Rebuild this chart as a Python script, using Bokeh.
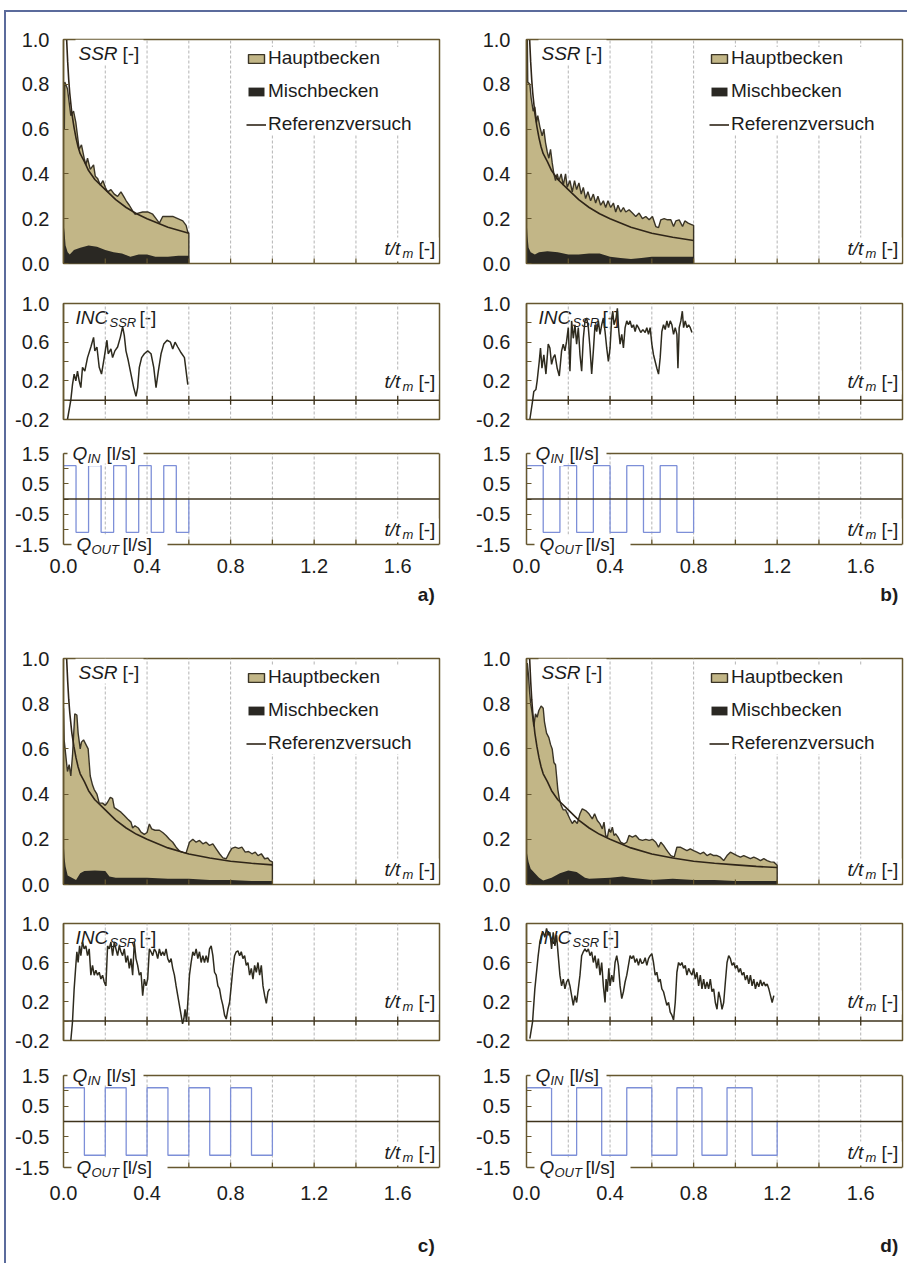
import math
from bokeh.plotting import figure
from bokeh.models import (Range1d, FixedTicker, Label, Legend, LegendItem, Span, LinearAxis,
                          BoxAnnotation)
from bokeh.layouts import row, column
from bokeh.embed import file_html
from bokeh.resources import INLINE

# ---------------- data ----------------
X_MAJOR = [0.0, 0.4, 0.8, 1.2, 1.6]
X_MAJOR_LABELS = ["0.0", "0.4", "0.8", "1.2", "1.6"]
GRID_T = [0.2, 0.4, 0.6, 0.8, 1.0, 1.2, 1.4, 1.6]

SSR_TICKS = [0.0, 0.2, 0.4, 0.6, 0.8, 1.0]
SSR_LABELS = ["0.0", "0.2", "0.4", "0.6", "0.8", "1.0"]
INC_TICKS = [-0.2, 0.2, 0.6, 1.0]
INC_LABELS = ["-0.2", "0.2", "0.6", "1.0"]
INC_MINOR = [0.0, 0.4, 0.8]
Q_TICKS = [-1.5, -0.5, 0.5, 1.5]
Q_LABELS = ["-1.5", "-0.5", "0.5", "1.5"]
Q_MINOR = [-1.0, 0.0, 1.0]

# Referenzversuch (same reference run in all panels)
ref_t = [0.015, 0.02, 0.025, 0.03, 0.04, 0.05, 0.06, 0.07, 0.08, 0.10, 0.12, 0.15, 0.20,
         0.25, 0.30, 0.35, 0.40, 0.50, 0.60, 0.70, 0.80, 0.90, 1.00, 1.10, 1.20]
ref_v = [1.00, 0.90, 0.82, 0.76, 0.67, 0.61, 0.56, 0.52, 0.49, 0.455, 0.415, 0.375, 0.33,
         0.285, 0.25, 0.222, 0.20, 0.162, 0.135, 0.117, 0.103, 0.094, 0.087, 0.080, 0.075]

Q_LEVELS = [1.1, -1.1, 1.1, -1.1, 1.1, -1.1, 1.1, -1.1, 1.1, -1.1]

# ---- panel a ----
hb_a_t = [0.0, 0.004, 0.006, 0.019, 0.027, 0.035, 0.048, 0.059, 0.067, 0.075,
          0.086, 0.099, 0.107, 0.115, 0.128, 0.144, 0.152, 0.163, 0.176, 0.189,
          0.2, 0.211, 0.227, 0.243, 0.259, 0.275, 0.288, 0.3, 0.315, 0.331,
          0.342, 0.358, 0.379, 0.403, 0.427, 0.443, 0.459, 0.475, 0.499, 0.523,
          0.547, 0.571, 0.587, 0.595, 0.6]
hb_a_v = [0.60, 0.60, 0.81, 0.78, 0.72, 0.66, 0.68, 0.63, 0.57, 0.51,
          0.53, 0.47, 0.44, 0.47, 0.42, 0.44, 0.39, 0.38, 0.35, 0.37,
          0.34, 0.32, 0.33, 0.31, 0.30, 0.32, 0.30, 0.28, 0.26, 0.235,
          0.22, 0.225, 0.23, 0.23, 0.22, 0.20, 0.18, 0.21, 0.21, 0.21,
          0.20, 0.19, 0.17, 0.14, 0.135]
mb_a_t = [0.0, 0.005, 0.01, 0.02, 0.03, 0.05, 0.08, 0.12, 0.16, 0.2, 0.24, 0.28, 0.32,
          0.36, 0.4, 0.44, 0.5, 0.55, 0.6]
mb_a_v = [0.18, 0.14, 0.08, 0.05, 0.04, 0.06, 0.07, 0.08, 0.075, 0.06, 0.05, 0.045, 0.03,
          0.04, 0.04, 0.03, 0.03, 0.035, 0.035]
inc_a_t = [0.019, 0.035, 0.043, 0.051, 0.059, 0.067, 0.075, 0.083, 0.091, 0.102,
           0.115, 0.131, 0.144, 0.15, 0.16, 0.171, 0.182, 0.195, 0.208, 0.214,
           0.227, 0.235, 0.246, 0.259, 0.272, 0.283, 0.291, 0.299, 0.31, 0.323,
           0.336, 0.347, 0.355, 0.363, 0.374, 0.387, 0.403, 0.419, 0.432, 0.443,
           0.454, 0.467, 0.48, 0.496, 0.512, 0.523, 0.534, 0.547, 0.563, 0.579,
           0.587, 0.595]
inc_a_v = [-0.2, 0.0, 0.16, 0.27, 0.20, 0.30, 0.20, 0.13, 0.34, 0.30,
           0.44, 0.55, 0.65, 0.51, 0.55, 0.34, 0.27, 0.44, 0.62, 0.48,
           0.53, 0.44, 0.51, 0.55, 0.65, 0.76, 0.67, 0.51, 0.41, 0.27,
           0.13, 0.04, 0.13, 0.34, 0.44, 0.48, 0.51, 0.48, 0.34, 0.13,
           0.30, 0.48, 0.58, 0.62, 0.60, 0.53, 0.60, 0.55, 0.49, 0.44,
           0.30, 0.16]
q_switch_a = [0.0, 0.06, 0.12, 0.18, 0.24, 0.30, 0.36, 0.42, 0.48, 0.54, 0.60]

# ---- panel b ----
hb_b_t = [0.0, 0.004, 0.006, 0.016, 0.022, 0.032, 0.04, 0.048, 0.054, 0.064,
          0.075, 0.083, 0.091, 0.099, 0.107, 0.115, 0.123, 0.131, 0.139, 0.147,
          0.155, 0.166, 0.176, 0.187, 0.195, 0.208, 0.219, 0.23, 0.24, 0.251,
          0.262, 0.272, 0.283, 0.294, 0.307, 0.32, 0.331, 0.342, 0.355, 0.368,
          0.379, 0.39, 0.403, 0.416, 0.427, 0.438, 0.451, 0.464, 0.475, 0.491,
          0.507, 0.523, 0.539, 0.555, 0.571, 0.587, 0.603, 0.619, 0.632, 0.643,
          0.659, 0.675, 0.691, 0.704, 0.715, 0.731, 0.747, 0.758, 0.774, 0.787,
          0.8]
hb_b_v = [0.80, 1.0, 0.81, 0.80, 0.74, 0.68, 0.70, 0.63, 0.66, 0.61,
          0.57, 0.60, 0.54, 0.50, 0.47, 0.51, 0.45, 0.40, 0.37, 0.40,
          0.37, 0.40, 0.35, 0.40, 0.34, 0.37, 0.32, 0.37, 0.33, 0.36,
          0.31, 0.34, 0.29, 0.32, 0.28, 0.31, 0.27, 0.30, 0.26, 0.28,
          0.25, 0.28, 0.25, 0.27, 0.23, 0.26, 0.23, 0.25, 0.23, 0.24,
          0.225, 0.21, 0.225, 0.20, 0.21, 0.195, 0.21, 0.165, 0.16, 0.195,
          0.20, 0.195, 0.195, 0.165, 0.19, 0.195, 0.165, 0.19, 0.18, 0.175,
          0.17]
mb_b_t = [0.0, 0.005, 0.01, 0.02, 0.04, 0.06, 0.1, 0.15, 0.2, 0.25, 0.3, 0.35, 0.4,
          0.45, 0.5, 0.55, 0.6, 0.7, 0.8]
mb_b_v = [0.20, 0.12, 0.07, 0.05, 0.04, 0.05, 0.055, 0.05, 0.04, 0.04, 0.045, 0.045, 0.03,
          0.025, 0.02, 0.025, 0.03, 0.03, 0.03]
inc_b_t = [0.016, 0.029, 0.035, 0.045, 0.051, 0.061, 0.067, 0.074, 0.083, 0.093,
           0.104, 0.112, 0.12, 0.128, 0.136, 0.147, 0.157, 0.168, 0.176, 0.184,
           0.192, 0.2, 0.208, 0.216, 0.224, 0.232, 0.24, 0.248, 0.256, 0.264,
           0.272, 0.28, 0.288, 0.296, 0.304, 0.312, 0.32, 0.328, 0.336, 0.344,
           0.352, 0.36, 0.368, 0.376, 0.384, 0.392, 0.4, 0.408, 0.413, 0.419,
           0.429, 0.435, 0.442, 0.448, 0.456, 0.464, 0.472, 0.48, 0.488, 0.496,
           0.504, 0.512, 0.52, 0.528, 0.536, 0.547, 0.557, 0.568, 0.576, 0.584,
           0.592, 0.6, 0.608, 0.616, 0.624, 0.632, 0.64, 0.648, 0.656, 0.664,
           0.672, 0.68, 0.688, 0.696, 0.704, 0.712, 0.72, 0.725, 0.731, 0.739,
           0.746, 0.752, 0.76, 0.768, 0.776, 0.784, 0.792]
inc_b_v = [-0.2, -0.01, 0.09, 0.11, 0.2, 0.40, 0.54, 0.33, 0.47, 0.27,
           0.58, 0.54, 0.37, 0.44, 0.47, 0.33, 0.25, 0.51, 0.58, 0.51,
           0.61, 0.75, 0.30, 0.82, 0.64, 0.78, 0.58, 0.75, 0.47, 0.30,
           0.64, 0.82, 0.85, 0.75, 0.54, 0.27, 0.51, 0.78, 0.71, 0.82,
           0.68, 0.78, 0.85, 0.71, 0.54, 0.40, 0.54, 0.85, 0.92, 0.78,
           0.85, 0.95, 0.71, 0.58, 0.68, 0.54, 0.75, 0.82, 0.78, 0.82,
           0.75, 0.78, 0.71, 0.78, 0.75, 0.70, 0.73, 0.70, 0.75, 0.68,
           0.75, 0.58, 0.47, 0.40, 0.33, 0.27, 0.44, 0.71, 0.78, 0.73,
           0.82, 0.75, 0.82, 0.78, 0.68, 0.75, 0.68, 0.33, 0.75, 0.82,
           0.92, 0.75, 0.82, 0.75, 0.78, 0.75, 0.70]
q_switch_b = [0.0, 0.08, 0.16, 0.24, 0.32, 0.40, 0.48, 0.56, 0.64, 0.72, 0.80]

# ---- panel c ----
hb_c_t = [0.0, 0.003, 0.011, 0.019, 0.027, 0.035, 0.043, 0.054, 0.064, 0.07,
          0.08, 0.086, 0.096, 0.107, 0.118, 0.128, 0.139, 0.147, 0.16, 0.171,
          0.187, 0.2, 0.211, 0.224, 0.235, 0.243, 0.259, 0.275, 0.291, 0.307,
          0.323, 0.331, 0.342, 0.358, 0.371, 0.387, 0.4, 0.411, 0.422, 0.438,
          0.459, 0.475, 0.491, 0.507, 0.523, 0.539, 0.555, 0.571, 0.587, 0.603,
          0.619, 0.635, 0.651, 0.667, 0.683, 0.699, 0.715, 0.731, 0.747, 0.763,
          0.779, 0.795, 0.806, 0.822, 0.838, 0.854, 0.87, 0.886, 0.902, 0.918,
          0.931, 0.947, 0.963, 0.979, 0.987, 1.0]
hb_c_v = [0.78, 0.64, 0.57, 0.50, 0.53, 0.48, 0.57, 0.755, 0.75, 0.67,
          0.60, 0.63, 0.64, 0.62, 0.60, 0.48, 0.44, 0.42, 0.40, 0.36,
          0.36, 0.35, 0.364, 0.386, 0.38, 0.34, 0.33, 0.32, 0.305, 0.29,
          0.276, 0.25, 0.26, 0.25, 0.232, 0.222, 0.23, 0.268, 0.246, 0.24,
          0.24, 0.23, 0.217, 0.20, 0.187, 0.165, 0.148, 0.142, 0.14, 0.187,
          0.20, 0.187, 0.195, 0.18, 0.187, 0.173, 0.18, 0.158, 0.136, 0.118,
          0.114, 0.143, 0.16, 0.165, 0.16, 0.165, 0.143, 0.146, 0.136, 0.143,
          0.128, 0.136, 0.114, 0.117, 0.106, 0.10]
mb_c_t = [0.0, 0.005, 0.01, 0.02, 0.04, 0.06, 0.08, 0.1, 0.15, 0.2, 0.22, 0.25, 0.3,
          0.4, 0.5, 0.6, 0.7, 0.8, 0.9, 1.0]
mb_c_v = [0.20, 0.12, 0.08, 0.04, 0.03, 0.02, 0.05, 0.06, 0.062, 0.06, 0.035, 0.03, 0.03,
          0.03, 0.025, 0.025, 0.02, 0.02, 0.015, 0.015]
inc_c_t = [0.035, 0.043, 0.051, 0.059, 0.064, 0.07, 0.077, 0.083, 0.091, 0.099,
           0.107, 0.115, 0.123, 0.131, 0.139, 0.147, 0.155, 0.163, 0.171, 0.179,
           0.187, 0.195, 0.203, 0.211, 0.219, 0.227, 0.235, 0.243, 0.251, 0.259,
           0.267, 0.275, 0.283, 0.291, 0.299, 0.307, 0.315, 0.323, 0.331, 0.339,
           0.347, 0.355, 0.363, 0.371, 0.379, 0.387, 0.395, 0.403, 0.411, 0.419,
           0.427, 0.435, 0.443, 0.451, 0.459, 0.467, 0.475, 0.483, 0.491, 0.499,
           0.507, 0.515, 0.523, 0.531, 0.539, 0.547, 0.555, 0.563, 0.57, 0.576,
           0.582, 0.589, 0.595, 0.603, 0.611, 0.619, 0.627, 0.635, 0.643, 0.651,
           0.659, 0.667, 0.675, 0.683, 0.691, 0.699, 0.707, 0.715, 0.723, 0.731,
           0.739, 0.747, 0.755, 0.763, 0.771, 0.779, 0.787, 0.795, 0.803, 0.811,
           0.819, 0.827, 0.835, 0.843, 0.851, 0.859, 0.867, 0.875, 0.883, 0.891,
           0.899, 0.907, 0.915, 0.923, 0.931, 0.939, 0.947, 0.955, 0.963, 0.971,
           0.979, 0.987]
inc_c_v = [-0.2, -0.01, 0.33, 0.57, 0.71, 0.60, 0.77, 0.67, 0.81, 0.74,
           0.77, 0.67, 0.74, 0.47, 0.57, 0.47, 0.52, 0.47, 0.50, 0.43,
           0.47, 0.40, 0.36, 0.77, 0.74, 0.81, 0.67, 0.81, 0.74, 0.67,
           0.77, 0.71, 0.67, 0.74, 0.60, 0.67, 0.54, 0.64, 0.47, 0.81,
           0.64, 0.57, 0.47, 0.50, 0.26, 0.43, 0.36, 0.43, 0.74, 0.71,
           0.67, 0.74, 0.71, 0.64, 0.74, 0.67, 0.71, 0.67, 0.74, 0.64,
           0.60, 0.64, 0.54, 0.47, 0.36, 0.26, 0.16, 0.06, -0.03, 0.02,
           0.12, -0.01, 0.19, 0.47, 0.60, 0.71, 0.67, 0.74, 0.64, 0.71,
           0.60, 0.67, 0.60, 0.67, 0.60, 0.74, 0.77, 0.67, 0.50, 0.47,
           0.36, 0.33, 0.23, 0.16, 0.06, 0.02, 0.12, 0.19, 0.36, 0.54,
           0.67, 0.71, 0.72, 0.67, 0.71, 0.64, 0.67, 0.57, 0.60, 0.47,
           0.54, 0.43, 0.57, 0.50, 0.60, 0.47, 0.57, 0.36, 0.26, 0.18,
           0.30, 0.33]
q_switch_c = [0.0, 0.1, 0.2, 0.3, 0.4, 0.5, 0.6, 0.7, 0.8, 0.9, 1.0]

# ---- panel d ----
hb_d_t = [0.0, 0.004, 0.01, 0.015, 0.02, 0.027, 0.035, 0.043, 0.051, 0.059,
          0.07, 0.08, 0.086, 0.096, 0.107, 0.115, 0.123, 0.131, 0.139, 0.144,
          0.15, 0.157, 0.166, 0.176, 0.187, 0.198, 0.208, 0.219, 0.23, 0.243,
          0.256, 0.267, 0.283, 0.299, 0.315, 0.326, 0.339, 0.352, 0.363, 0.371,
          0.379, 0.387, 0.395, 0.403, 0.411, 0.419, 0.427, 0.438, 0.451, 0.467,
          0.48, 0.491, 0.507, 0.523, 0.539, 0.555, 0.571, 0.587, 0.603, 0.619,
          0.632, 0.643, 0.656, 0.667, 0.678, 0.691, 0.707, 0.72, 0.736, 0.752,
          0.768, 0.784, 0.8, 0.816, 0.832, 0.848, 0.864, 0.88, 0.896, 0.912,
          0.928, 0.944, 0.96, 0.976, 0.992, 1.008, 1.024, 1.04, 1.056, 1.072,
          1.088, 1.104, 1.12, 1.136, 1.152, 1.168, 1.184, 1.195, 1.2]
hb_d_v = [0.85, 0.98, 0.92, 0.85, 0.80, 0.76, 0.70, 0.755, 0.74, 0.77,
          0.79, 0.78, 0.72, 0.67, 0.65, 0.62, 0.60, 0.54, 0.53, 0.48,
          0.42, 0.38, 0.35, 0.33, 0.33, 0.31, 0.29, 0.27, 0.283, 0.27,
          0.313, 0.335, 0.327, 0.313, 0.29, 0.313, 0.283, 0.268, 0.246, 0.276,
          0.217, 0.21, 0.246, 0.23, 0.254, 0.217, 0.224, 0.21, 0.187, 0.18,
          0.187, 0.217, 0.21, 0.217, 0.20, 0.195, 0.20, 0.195, 0.20, 0.187,
          0.165, 0.187, 0.173, 0.158, 0.143, 0.128, 0.121, 0.165, 0.165, 0.158,
          0.15, 0.158, 0.15, 0.143, 0.136, 0.143, 0.128, 0.136, 0.128, 0.128,
          0.121, 0.106, 0.128, 0.143, 0.136, 0.128, 0.121, 0.128, 0.121, 0.114,
          0.121, 0.114, 0.106, 0.114, 0.106, 0.10, 0.099, 0.09, 0.085]
mb_d_t = [0.0, 0.01, 0.02, 0.04, 0.06, 0.08, 0.12, 0.16, 0.2, 0.24, 0.28, 0.3, 0.4,
          0.46, 0.5, 0.6, 0.7, 0.8, 0.9, 1.0, 1.1, 1.2]
mb_d_v = [0.15, 0.10, 0.07, 0.05, 0.03, 0.018, 0.03, 0.05, 0.062, 0.055, 0.03, 0.025, 0.03,
          0.035, 0.03, 0.02, 0.025, 0.02, 0.02, 0.015, 0.015, 0.015]
inc_d_t = [0.016, 0.029, 0.04, 0.048, 0.056, 0.064, 0.072, 0.08, 0.088, 0.096,
           0.104, 0.112, 0.12, 0.128, 0.136, 0.144, 0.152, 0.16, 0.168, 0.176,
           0.184, 0.192, 0.2, 0.208, 0.216, 0.224, 0.232, 0.24, 0.248, 0.256,
           0.264, 0.272, 0.28, 0.288, 0.296, 0.304, 0.312, 0.32, 0.328, 0.336,
           0.344, 0.352, 0.36, 0.368, 0.376, 0.381, 0.387, 0.394, 0.4, 0.408,
           0.416, 0.424, 0.432, 0.44, 0.448, 0.456, 0.464, 0.472, 0.48, 0.488,
           0.496, 0.504, 0.512, 0.52, 0.528, 0.536, 0.544, 0.552, 0.56, 0.568,
           0.576, 0.584, 0.592, 0.6, 0.608, 0.616, 0.624, 0.632, 0.64, 0.648,
           0.656, 0.664, 0.672, 0.68, 0.688, 0.696, 0.704, 0.712, 0.72, 0.728,
           0.736, 0.744, 0.752, 0.76, 0.768, 0.776, 0.784, 0.792, 0.8, 0.808,
           0.816, 0.824, 0.832, 0.84, 0.848, 0.856, 0.864, 0.872, 0.88, 0.888,
           0.896, 0.904, 0.912, 0.92, 0.928, 0.936, 0.944, 0.952, 0.96, 0.968,
           0.976, 0.984, 0.992, 1.0, 1.008, 1.016, 1.024, 1.032, 1.04, 1.048,
           1.056, 1.064, 1.072, 1.08, 1.088, 1.096, 1.104, 1.112, 1.12, 1.128,
           1.136, 1.144, 1.152, 1.16, 1.168, 1.176, 1.184]
inc_d_v = [-0.18, -0.01, 0.33, 0.50, 0.67, 0.81, 0.88, 0.91, 0.86, 0.95,
           0.88, 0.91, 0.74, 0.91, 0.77, 0.88, 0.67, 0.47, 0.36, 0.43,
           0.33, 0.40, 0.43, 0.36, 0.26, 0.16, 0.26, 0.19, 0.33, 0.47,
           0.67, 0.71, 0.74, 0.71, 0.74, 0.67, 0.71, 0.60, 0.67, 0.54,
           0.64, 0.47, 0.60, 0.36, 0.19, 0.43, 0.30, 0.54, 0.36, 0.47,
           0.40, 0.60, 0.67, 0.57, 0.36, 0.23, 0.30, 0.40, 0.47, 0.57,
           0.67, 0.64, 0.67, 0.60, 0.64, 0.57, 0.64, 0.59, 0.60, 0.65,
           0.57, 0.64, 0.67, 0.69, 0.60, 0.47, 0.50, 0.40, 0.43, 0.33,
           0.30, 0.23, 0.16, 0.19, 0.09, 0.06, 0.01, 0.19, 0.50, 0.60,
           0.57, 0.60, 0.54, 0.57, 0.47, 0.54, 0.50, 0.47, 0.54, 0.43,
           0.50, 0.36, 0.47, 0.33, 0.43, 0.33, 0.40, 0.33, 0.43, 0.30,
           0.33, 0.19, 0.12, 0.30, 0.23, 0.12, 0.19, 0.40, 0.60, 0.67,
           0.64, 0.57, 0.60, 0.54, 0.57, 0.50, 0.54, 0.47, 0.50, 0.42,
           0.47, 0.38, 0.47, 0.36, 0.43, 0.33, 0.40, 0.35, 0.42, 0.36,
           0.40, 0.36, 0.38, 0.33, 0.26, 0.19, 0.26]
q_switch_d = [0.0, 0.12, 0.24, 0.36, 0.48, 0.60, 0.72, 0.84, 0.96, 1.08, 1.20]

PANELS = {
    "a": dict(hb_t=hb_a_t, hb_v=hb_a_v, mb_t=mb_a_t, mb_v=mb_a_v, inc_t=inc_a_t, inc_v=inc_a_v, qs=q_switch_a),
    "b": dict(hb_t=hb_b_t, hb_v=hb_b_v, mb_t=mb_b_t, mb_v=mb_b_v, inc_t=inc_b_t, inc_v=inc_b_v, qs=q_switch_b),
    "c": dict(hb_t=hb_c_t, hb_v=hb_c_v, mb_t=mb_c_t, mb_v=mb_c_v, inc_t=inc_c_t, inc_v=inc_c_v, qs=q_switch_c),
    "d": dict(hb_t=hb_d_t, hb_v=hb_d_v, mb_t=mb_d_t, mb_v=mb_d_v, inc_t=inc_d_t, inc_v=inc_d_v, qs=q_switch_d),
}

# ---------------- styling ----------------
FONT = "Liberation Sans"
TXT = "#1c1c1c"
FRAME = "#66572f"
GRID = "#b4b4b4"
ZERO = "#3e331c"
HB_FILL = "#c2b687"
HB_LINE = "#3a3426"
MB_FILL = "#2a2823"
REF_COL = "#2f2518"
INC_COL = "#2e2b1e"
Q_COL = "#7d8fd8"
FS = "19px"
FS_TICK = "20px"
FS_SUB = "13px"
EXT = 12   # extra frame pixels above/below the Q box (room for the Q labels)
NBSP = "\u00a0"


def base_fig(w, h, bl, br, bt, bb, yr, xloc):
    p = figure(width=w, height=h, x_range=Range1d(0, 1.8), y_range=Range1d(*yr),
               output_backend="svg", toolbar_location=None, tools="",
               x_axis_location=xloc,
               min_border_left=bl, min_border_right=br, min_border_top=bt, min_border_bottom=bb)
    p.border_fill_color = None
    p.background_fill_color = "white"
    p.outline_line_color = FRAME
    p.outline_line_width = 1.5
    p.xgrid.visible = False
    p.ygrid.visible = False
    return p


def grid_lines(p, lo, hi):
    n = len(GRID_T)
    p.segment(x0=GRID_T, y0=[lo] * n, x1=GRID_T, y1=[hi] * n,
              line_color=GRID, line_dash="3 2", line_width=1)


def style_y(p, ticks, labels, minor, standoff):
    ax = p.yaxis[0]
    ax.ticker = FixedTicker(ticks=ticks, minor_ticks=minor)
    ax.major_label_overrides = {t: l for t, l in zip(ticks, labels)}
    ax.major_tick_in = 5
    ax.major_tick_out = 0
    ax.minor_tick_in = 5
    ax.minor_tick_out = 0
    ax.major_tick_line_color = FRAME
    ax.minor_tick_line_color = FRAME
    ax.axis_line_color = FRAME
    ax.axis_line_width = 1.5
    ax.major_label_text_font = FONT
    ax.major_label_text_font_size = FS_TICK
    ax.major_label_text_color = TXT
    ax.major_label_standoff = standoff


def white_box(p, left, right, bottom, top):
    p.add_layout(BoxAnnotation(left=left, right=right, bottom=bottom, top=top,
                               left_units="screen", right_units="screen",
                               bottom_units="screen", top_units="screen",
                               fill_color="white", fill_alpha=1.0, line_color=None))


def txt(p, x, y, text, size=FS, style="normal", bg=True, align="left", level="annotation"):
    lab = Label(x=x, y=y, x_units="screen", y_units="screen", text=text,
                text_font=FONT, text_font_size=size, text_font_style=style,
                text_align=align, text_baseline="middle", text_color=TXT, level=level)
    if bg:
        lab.background_fill_color = "white"
        lab.background_fill_alpha = 1.0
    p.add_layout(lab)


def ttm(p, y, bg=True):
    if bg:
        white_box(p, 317, 375, y - 13, y + 11)
    txt(p, 321, y, "t/t", style="italic", bg=bg)
    txt(p, 339, y - 5, "m", size=FS_SUB, style="italic", bg=bg)
    txt(p, 355, y, "[-]", bg=bg)


def ssr_fig(d, w, h, bl, br, bt, bb, ystand):
    p = base_fig(w, h, bl, br, bt, bb, (0, 1.0), None)
    fh = h - bt - bb
    style_y(p, SSR_TICKS, SSR_LABELS, [], ystand)
    grid_lines(p, 0.0, 1.0)
    tend = d["hb_t"][-1]
    xs = [0.0] + list(d["hb_t"]) + [tend]
    ys = [0.0] + list(d["hb_v"]) + [0.0]
    r_hb = p.patch(xs, ys, fill_color=HB_FILL, line_color=HB_LINE, line_width=1.4)
    r_mb = p.varea(x=d["mb_t"], y1=[0.0] * len(d["mb_t"]), y2=d["mb_v"], fill_color=MB_FILL)
    rt = [t for t in ref_t if t <= tend + 1e-9]
    rv = ref_v[:len(rt)]
    r_ref = p.line(rt, rv, line_color=REF_COL, line_width=1.6)
    # inward tick marks on the bottom edge
    p.scatter(x=GRID_T, y=[0.0] * len(GRID_T), marker="dash", size=10, angle=math.pi / 2,
              line_color=FRAME, line_width=1.2)
    leg = Legend(items=[LegendItem(label="Hauptbecken", renderers=[r_hb]),
                        LegendItem(label="Mischbecken", renderers=[r_mb]),
                        LegendItem(label="Referenzversuch", renderers=[r_ref])],
                 location=(183, fh - 96), orientation="vertical",
                 glyph_width=20, glyph_height=11, label_height=22, label_standoff=2,
                 spacing=11, padding=8, margin=0,
                 label_text_font=FONT, label_text_font_size=FS, label_text_color=TXT,
                 background_fill_color="white", background_fill_alpha=1.0,
                 border_line_color=None)
    p.add_layout(leg)
    white_box(p, 12, 80, fh - 25, fh)
    txt(p, 15, fh - 14, "SSR", style="italic")
    txt(p, 59, fh - 14, "[-]")
    ttm(p, 15)
    return p


def inc_fig(d, w, h, bl, br, bt, bb, ystand):
    p = base_fig(w, h, bl, br, bt, bb, (-0.2, 1.0), None)
    fh = h - bt - bb
    style_y(p, INC_TICKS, INC_LABELS, INC_MINOR, ystand)
    grid_lines(p, -0.2, 1.0)
    p.add_layout(Span(location=0, dimension="width", line_color=ZERO, line_width=1.5, level="underlay"))
    p.scatter(x=GRID_T, y=[0.0] * len(GRID_T), marker="dash", size=9, angle=math.pi / 2,
              line_color=ZERO, line_width=1.3)
    txt(p, 12, fh - 14, "INC", style="italic", bg=False, level="underlay")
    txt(p, 46, fh - 19, "SSR", size=FS_SUB, style="italic", bg=False, level="underlay")
    txt(p, 76, fh - 14, "[-]", bg=False, level="underlay")
    p.line(d["inc_t"], d["inc_v"], line_color=INC_COL, line_width=1.5)
    ttm(p, fh - 78)
    return p


def q_fig(d, w, h, bl, br, bt, bb, ystand, xstand, panel_label, label_standoff):
    box = h - bt - bb                      # pixel height of the -1.5..1.5 box
    ext = EXT * 3.0 / box
    p = base_fig(w, h, bl, br, bt - EXT, bb - EXT, (-1.5 - ext, 1.5 + ext), "below")
    p.outline_line_color = None
    style_y(p, Q_TICKS, Q_LABELS, Q_MINOR, ystand)
    p.yaxis[0].bounds = (-1.5, 1.5)
    ra = LinearAxis(ticker=FixedTicker(ticks=[]), bounds=(-1.5, 1.5),
                    axis_line_color=FRAME, axis_line_width=1.5,
                    major_tick_in=0, major_tick_out=0, minor_tick_in=0, minor_tick_out=0,
                    major_label_standoff=0)
    p.add_layout(ra, "right")
    ax = p.xaxis[0]
    ax.ticker = FixedTicker(ticks=X_MAJOR)
    ax.major_label_overrides = {t: l for t, l in zip(X_MAJOR, X_MAJOR_LABELS)}
    ax.axis_line_color = None
    ax.major_tick_in = 0
    ax.major_tick_out = 0
    ax.minor_tick_line_color = None
    ax.major_label_text_font = FONT
    ax.major_label_text_font_size = FS_TICK
    ax.major_label_text_color = TXT
    ax.major_label_standoff = xstand
    # panel letter as an axis label at the right end (trailing no-break spaces move it
    # left so that it ends near the frame's right edge)
    ax.axis_label = panel_label + NBSP * 5
    ax.axis_label_align = "end"
    ax.axis_label_standoff = label_standoff
    ax.axis_label_text_font = FONT
    ax.axis_label_text_font_size = FS
    ax.axis_label_text_font_style = "bold"
    ax.axis_label_text_color = TXT
    grid_lines(p, -1.5, 1.5)
    n = len(GRID_T)
    p.ray(x=GRID_T, y=[-1.5] * n, length=5, length_units="screen", angle=90, angle_units="deg",
          line_color=FRAME, line_width=1.3)
    p.add_layout(Span(location=1.5, dimension="width", line_color=FRAME, line_width=1.5))
    p.add_layout(Span(location=-1.5, dimension="width", line_color=FRAME, line_width=1.5))
    p.add_layout(Span(location=0, dimension="width", line_color=ZERO, line_width=1.5))
    qs = d["qs"]
    xs = [qs[0]]
    ys = [0.0]
    for i in range(len(qs) - 1):
        xs += [qs[i], qs[i + 1]]
        ys += [Q_LEVELS[i], Q_LEVELS[i]]
    xs.append(qs[-1])
    ys.append(0.0)
    p.line(xs, ys, line_color=Q_COL, line_width=1.3)
    top = EXT + box
    bot = EXT
    white_box(p, 4, 80, top - 10, top + 11)
    white_box(p, 8, 104, bot - 11, bot + 10)
    txt(p, 9, top, "Q", style="italic")
    txt(p, 24, top - 5, "IN", size=FS_SUB, style="italic")
    txt(p, 43, top, "[l/s]")
    txt(p, 13, bot, "Q", style="italic")
    txt(p, 28, bot - 5, "OUT", size=FS_SUB, style="italic")
    txt(p, 59, bot, "[l/s]")
    ttm(p, bot + 15)
    return p


# column geometry: (width, min_border_left, min_border_right, y-label standoff)
LEFT = (450, 63, 11, 14)
RIGHT = (457, 76, 5, 16)

figs = {}
for key, col, top in [("a", LEFT, True), ("b", RIGHT, True), ("c", LEFT, False), ("d", RIGHT, False)]:
    w, bl, br, ys = col
    d = PANELS[key]
    if top:
        s = ssr_fig(d, w, 283, bl, br, 39, 20, ys)
        i = inc_fig(d, w, 150, bl, br, 20, 14, ys)
        q = q_fig(d, w, 187, bl, br, 20, 76, ys, 2, key + ")", 8)
    else:
        s = ssr_fig(d, w, 283, bl, br, 38, 19, ys)
        i = inc_fig(d, w, 152, bl, br, 20, 15, ys)
        q = q_fig(d, w, 208, bl, br, 20, 96, ys, 6, key + ")", 32)
    figs[key] = (s, i, q)

rows = []
for pair in [("a", "b"), ("c", "d")]:
    for k in range(3):
        rows.append(row(figs[pair[0]][k], figs[pair[1]][k], spacing=0))

BORDER = "#5b6b9c"
root = column(*rows, spacing=0, styles={
    "background-image": f"linear-gradient({BORDER}, {BORDER}), linear-gradient({BORDER}, {BORDER})",
    "background-size": "2px 1253px, 903px 2px",
    "background-position": "4px 10px, 4px 10px",
    "background-repeat": "no-repeat",
})

open("out.html", "w").write(file_html(root, INLINE))
